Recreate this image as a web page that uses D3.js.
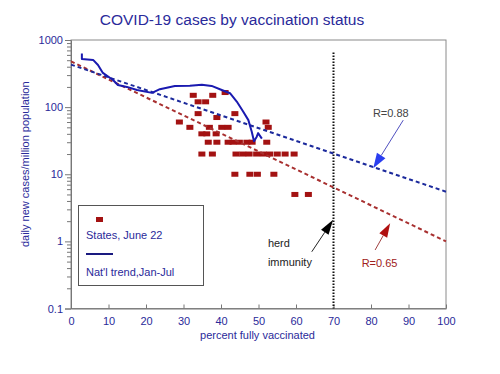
<!DOCTYPE html>
<html>
<head>
<meta charset="utf-8">
<script src="https://cdn.jsdelivr.net/npm/d3@7"></script>
<style>
body { margin: 0; background: #fff; }
svg { display: block; font-family: "Liberation Sans", Arial, sans-serif; }
</style>
</head>
<body>
<div class="CHART"></div>
<script>
// state points, June 22 (percent fully vaccinated, daily new cases/million)
var stateX = [32.6, 37.8, 41.1, 33.9, 35.9, 33.9, 43.7, 38.9, 28.9, 52.0,
              31.7, 36.9, 40.2, 41.9, 52.6, 34.9, 36.2, 38.7,
              36.6, 38.9, 41.9, 43.2, 44.9, 46.9, 48.3, 52.2,
              34.9, 37.7, 44.0, 45.8, 47.5, 49.5, 51.3, 53.0, 55.0, 57.1, 59.5,
              43.7, 47.7, 49.7, 54.1, 59.7, 63.3];
var stateY = [150, 150, 165, 120, 120, 80, 80, 70, 60, 60,
              50, 50, 50, 50, 50, 40, 40, 40,
              30, 30, 30, 30, 30, 30, 30, 30,
              20, 20, 20, 20, 20, 20, 20, 20, 20, 20, 20,
              10, 10, 10, 10, 5, 5];

// national trend Jan-Jul
var trendX = [2.9, 2.9, 5.9, 7.2, 8.5, 11.2, 12.5, 14.9, 17.6, 21.6, 23.7, 27.7, 31.7,
              34.9, 37.5, 40.2, 42.4, 44.2, 45.9, 47.3, 48.2, 48.8, 49.5, 49.9, 50.9];
var trendY = [630, 520, 505, 425, 323, 254, 214, 200, 180, 163, 185, 207, 209,
              216, 207, 180, 161, 121, 86, 64, 43, 31, 36, 41, 34];

// regression fits (endpoints at 0 and 100 %)
var fitX = [0, 100];
var fitBlue = [430, 5.5];
var fitRed = [480, 1.0];

var xTicks = [0, 10, 20, 30, 40, 50, 60, 70, 80, 90, 100];
var yTicks = [0.1, 1, 10, 100, 1000];

var margin = {top: 40, right: 54, bottom: 65.5, left: 71},
    width = 500 - margin.left - margin.right,
    height = 374 - margin.top - margin.bottom;

var navy = "#2a2a9a";
var red = "#a31212";

var svg = d3.select(".CHART").append("svg")
    .attr("width", 500)
    .attr("height", 374);

var g = svg.append("g").attr("transform", "translate(" + margin.left + "," + margin.top + ")");

var x = d3.scaleLinear().domain([0, 100]).range([0, width]);
var y = d3.scaleLog().domain([0.1, 1000]).range([height, 0]);

// title
svg.append("text")
    .attr("x", 232).attr("y", 25)
    .attr("text-anchor", "middle")
    .attr("font-size", "15.5px")
    .attr("fill", navy)
    .text("COVID-19 cases by vaccination status");

// frame
g.append("rect")
    .attr("x", 0).attr("y", 0)
    .attr("width", width).attr("height", height)
    .attr("fill", "none")
    .attr("stroke", "#8a8a8a")
    .attr("stroke-width", 1);

// y axis with log minor ticks
var minor = [];
yTicks.slice(0, -1).forEach(function(t) {
    for (var k = 2; k <= 9; k++) minor.push(t * k);
});
var yAxis = g.append("g")
    .call(d3.axisLeft(y).tickValues(yTicks).tickSize(6).tickPadding(2)
        .tickFormat(function(d) { return d < 1 ? d3.format(".1f")(d) : d3.format("d")(d); }));
g.append("g")
    .call(d3.axisLeft(y).tickValues(minor).tickSize(4).tickFormat(""))
    .select(".domain").remove();
yAxis.selectAll("text").attr("fill", navy).attr("font-size", "11px").attr("font-family", "Liberation Sans, Arial, sans-serif");
g.selectAll(".tick line").attr("stroke", "#777");
yAxis.select(".domain").attr("stroke", "#777");

// x axis, ticks point inward
var xAxis = g.append("g")
    .attr("transform", "translate(0," + height + ")")
    .call(d3.axisBottom(x).tickValues(xTicks).tickSizeInner(-4).tickSizeOuter(0).tickPadding(9));
xAxis.selectAll("text").attr("fill", navy).attr("font-size", "11px").attr("font-family", "Liberation Sans, Arial, sans-serif");
xAxis.selectAll(".tick line").attr("stroke", "#777");
xAxis.select(".domain").attr("stroke", "#777");

// axis titles
svg.append("text")
    .attr("x", margin.left + width / 2 - 1).attr("y", 339)
    .attr("text-anchor", "middle")
    .attr("font-size", "11px")
    .attr("fill", navy)
    .text("percent fully vaccinated");

svg.append("text")
    .attr("transform", "translate(29," + (margin.top + height / 2 - 10) + ") rotate(-90)")
    .attr("text-anchor", "middle")
    .attr("font-size", "11px")
    .attr("fill", navy)
    .text("daily new cases/million population");

// herd immunity line at 70%
g.append("line")
    .attr("x1", x(70)).attr("x2", x(70))
    .attr("y1", y(650)).attr("y2", height)
    .attr("stroke", "#111")
    .attr("stroke-width", 2)
    .attr("stroke-dasharray", "1.5,1.5");

// state squares
var pts = stateX.map(function(d, i) { return {x: d, y: stateY[i]}; });
g.selectAll(".pt").data(pts).enter().append("rect")
    .attr("class", "pt")
    .attr("x", function(d) { return x(d.x) - 3.5; })
    .attr("y", function(d) { return y(d.y) - 2.5; })
    .attr("width", 7).attr("height", 5)
    .attr("fill", red);

// fit lines
var line = d3.line().x(function(d) { return x(d[0]); }).y(function(d) { return y(d[1]); });
g.append("path")
    .attr("d", line(fitX.map(function(d, i) { return [d, fitRed[i]]; })))
    .attr("fill", "none").attr("stroke", "#a83030")
    .attr("stroke-width", 2).attr("stroke-dasharray", "4,3");
g.append("path")
    .attr("d", line(fitX.map(function(d, i) { return [d, fitBlue[i]]; })))
    .attr("fill", "none").attr("stroke", "#1c2a9c")
    .attr("stroke-width", 2).attr("stroke-dasharray", "4,3");

// national trend
g.append("path")
    .attr("d", line(trendX.map(function(d, i) { return [d, trendY[i]]; })))
    .attr("fill", "none").attr("stroke", "#1a1ab0")
    .attr("stroke-width", 2).attr("stroke-linejoin", "round");

// annotation arrows: [x0,y0] -> [x1,y1] in data units
function arrow(x0, y0, x1, y1, shaft, head, len, hw) {
    var ax = x(x0), ay = y(y0), bx = x(x1), by = y(y1);
    var dx = bx - ax, dy = by - ay, L = Math.sqrt(dx * dx + dy * dy);
    var ux = dx / L, uy = dy / L;
    var cx = bx - ux * len, cy = by - uy * len;
    g.append("line")
        .attr("x1", ax).attr("y1", ay).attr("x2", cx).attr("y2", cy)
        .attr("stroke", shaft).attr("stroke-width", 1);
    g.append("polygon")
        .attr("points", [[bx, by], [cx - uy * hw, cy + ux * hw], [cx + uy * hw, cy - ux * hw]].join(" "))
        .attr("fill", head);
}
arrow(64.2, 0.70, 69.9, 2.1, "#222", "#000", 15, 4.5);
arrow(81.1, 0.745, 85.1, 1.86, "#a04040", "#b01010", 14, 4.5);
arrow(88.6, 64, 80.6, 12.3, "#5050c0", "#2a3ef0", 15, 5);

function note(tx, ty, txt, col) {
    g.append("text")
        .attr("x", x(tx)).attr("y", y(ty))
        .attr("font-size", "11px")
        .attr("fill", col)
        .text(txt);
}
note(52.5, 0.82, "herd", "#222");
note(52.5, 0.43, "immunity", "#222");
note(77.5, 0.41, "R=0.65", "#a02020");
note(80.5, 72, "R=0.88", "#444");

// legend
var leg = svg.append("g");
leg.append("rect")
    .attr("x", 78.5).attr("y", 205.5)
    .attr("width", 125).attr("height", 80)
    .attr("fill", "#fff").attr("stroke", "#555").attr("stroke-width", 1);
leg.append("rect")
    .attr("x", 96).attr("y", 217).attr("width", 7).attr("height", 5)
    .attr("fill", red);
leg.append("text")
    .attr("x", 86).attr("y", 239)
    .attr("font-size", "11px").attr("fill", navy)
    .text("States, June 22");
leg.append("line")
    .attr("x1", 86).attr("x2", 113).attr("y1", 254).attr("y2", 254)
    .attr("stroke", "#1a1a80").attr("stroke-width", 2);
leg.append("text")
    .attr("x", 86).attr("y", 276)
    .attr("font-size", "11px").attr("fill", navy)
    .text("Nat'l trend,Jan-Jul");
</script>
</body>
</html>
